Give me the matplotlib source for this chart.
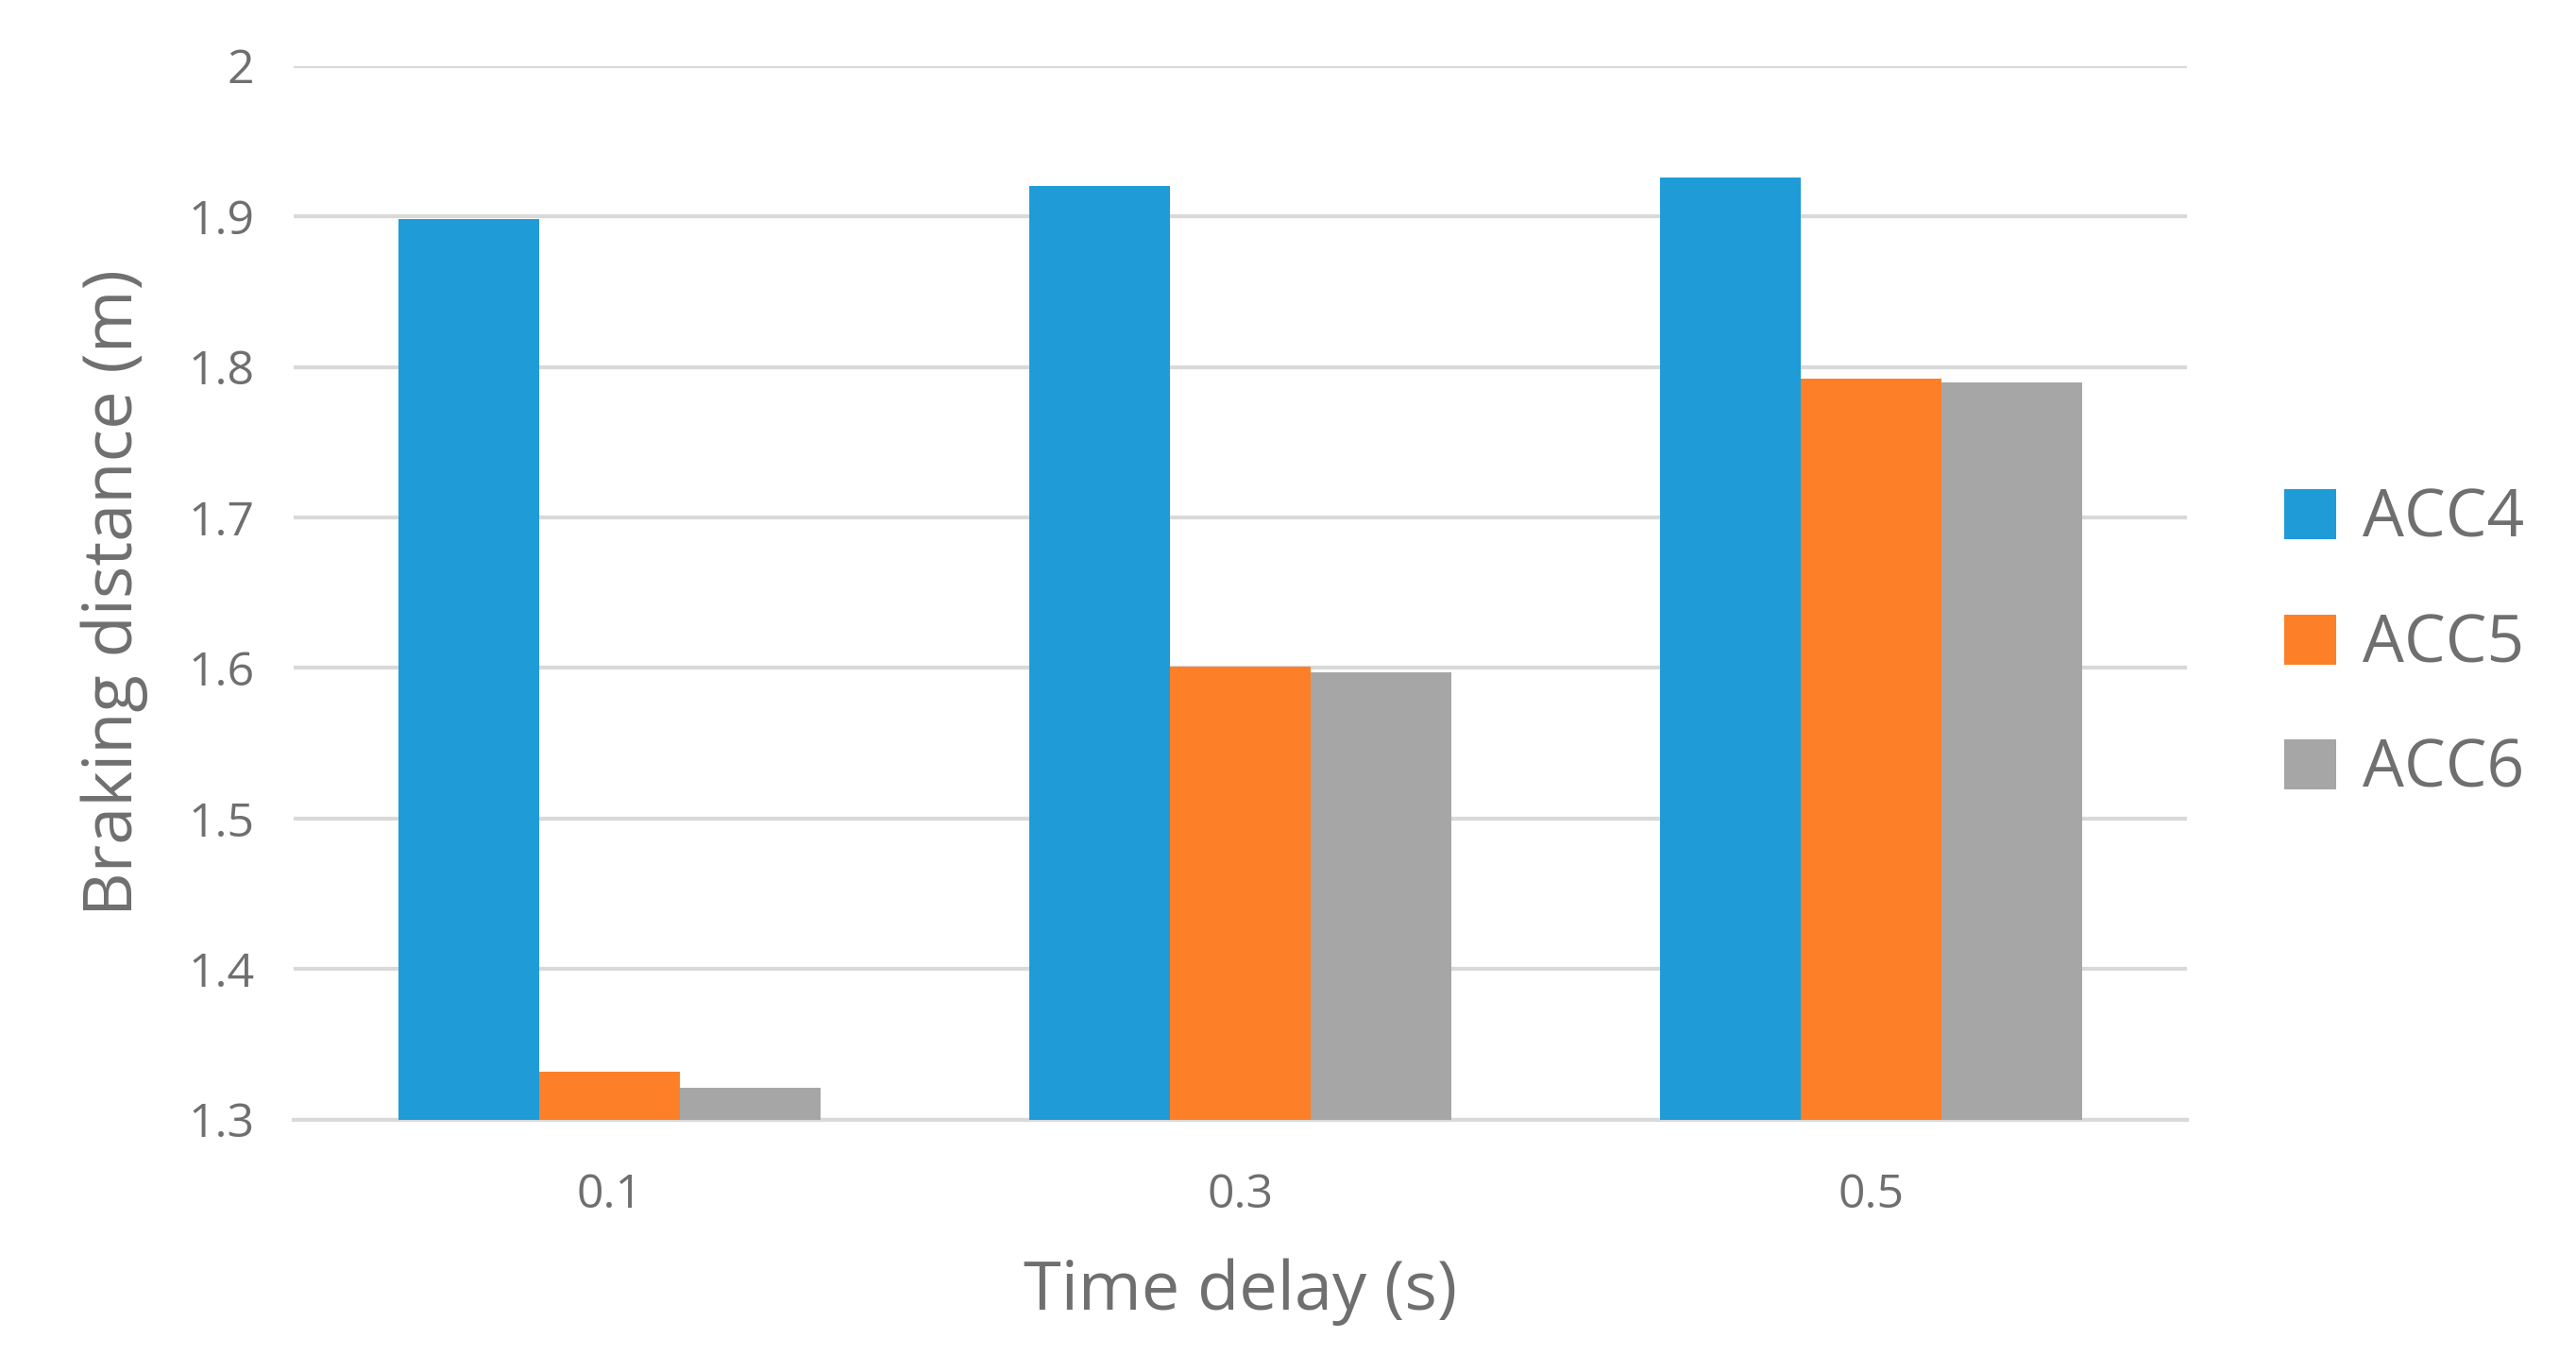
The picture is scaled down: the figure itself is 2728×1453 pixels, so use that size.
import matplotlib.pyplot as plt
import numpy as np

plt.rcParams["font.family"] = ["Open Sans", "DejaVu Sans"]

# data
delays = ["0.1", "0.3", "0.5"]
acc4 = [1.898, 1.920, 1.926]
acc5 = [1.332, 1.601, 1.792]
acc6 = [1.321, 1.597, 1.790]

colors = ["#1f9bd7", "#fd7f28", "#a6a6a6"]
grey = "#6f6f6f"

fig = plt.figure(figsize=(27.28, 14.53), dpi=100)
ax = fig.add_axes([0.114, 0.184, 0.735, 0.768])

x = np.arange(len(delays))
w = 0.223
for i, (vals, lab) in enumerate([(acc4, "ACC4"), (acc5, "ACC5"), (acc6, "ACC6")]):
    ax.bar(x + (i - 1) * w, np.array(vals) - 1.3, w, bottom=1.3, color=colors[i], label=lab, zorder=3)

ax.set_xlim(-0.5, 2.5)
ax.set_ylim(1.3, 2.0)
ax.set_yticks(np.arange(1.3, 2.01, 0.1))
ax.set_yticklabels(["1.3", "1.4", "1.5", "1.6", "1.7", "1.8", "1.9", "2"])
ax.set_xticks(x)
ax.set_xticklabels(delays)
ax.grid(axis="y", color="#d9d9d9", linewidth=3, zorder=0)
for s in ["top", "right", "left"]:
    ax.spines[s].set_visible(False)
ax.spines["bottom"].set_color("#d9d9d9")
ax.spines["bottom"].set_linewidth(3)
ax.tick_params(length=0, labelsize=36, colors=grey, pad=30)
ax.tick_params(axis="x", pad=40)

ax.set_xlabel("Time delay (s)", fontsize=52, color=grey, labelpad=30)
ax.set_ylabel("Braking distance (m)", fontsize=52, color=grey, labelpad=30)

ax.legend(loc="center left", bbox_to_anchor=(1.02, 0.45), frameon=False,
          fontsize=50, labelcolor=grey, handlelength=0.8, handleheight=0.8,
          labelspacing=0.9, handletextpad=0.4)

fig.savefig("out.png", dpi=100)
